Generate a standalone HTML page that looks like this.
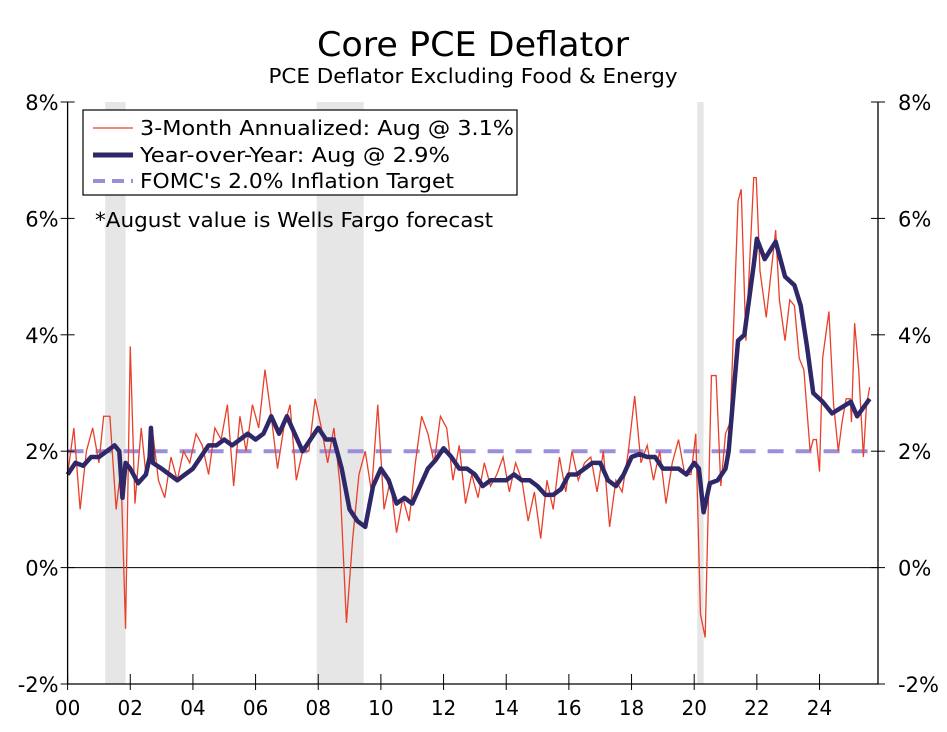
<!DOCTYPE html>
<html><head><meta charset="utf-8"><style>
body{margin:0;background:#fff}
svg text{font-family:"DejaVu Sans","Liberation Sans",sans-serif}
</style></head><body>
<svg id="chart" width="947" height="727" xmlns="http://www.w3.org/2000/svg">
<text x="473" y="56" text-anchor="middle" font-size="34" textLength="312" lengthAdjust="spacingAndGlyphs">Core PCE Deflator</text>
<text x="473" y="83" text-anchor="middle" font-size="20" textLength="409" lengthAdjust="spacingAndGlyphs">PCE Deflator Excluding Food &amp; Energy</text>
<g id="rec"></g><g id="grid"></g><g id="series"></g><g id="axes"></g>
<g>
<rect x="83" y="110" width="434" height="85" fill="#fff" stroke="#000" stroke-width="1.2"/>
<line x1="93" y1="128" x2="133" y2="128" stroke="#e8402a" stroke-width="1.3"/>
<text x="140" y="135" font-size="20" textLength="374" lengthAdjust="spacingAndGlyphs">3-Month Annualized: Aug @ 3.1%</text>
<line x1="93" y1="155" x2="133" y2="155" stroke="#2e2868" stroke-width="5"/>
<text x="140" y="162" font-size="20" textLength="310" lengthAdjust="spacingAndGlyphs">Year-over-Year: Aug @ 2.9%</text>
<line x1="93" y1="181" x2="133" y2="181" stroke="#9b8fdc" stroke-width="4" stroke-dasharray="12,7"/>
<text x="140" y="188" font-size="20" textLength="314" lengthAdjust="spacingAndGlyphs">FOMC's 2.0% Inflation Target</text>
</g>
<text x="95" y="227" font-size="20" textLength="398" lengthAdjust="spacingAndGlyphs">*August value is Wells Fargo forecast</text>
</svg>
<script>
const yTicks=[-2,0,2,4,6,8];
const xTickYears=[2000,2002,2004,2006,2008,2010,2012,2014,2016,2018,2020,2022,2024];
const recessions=[[2001.2,2001.85],[2007.95,2009.45],[2020.1,2020.3]];
const target=2.0;
const m3Dates=[2000.0,2000.2,2000.4,2000.6,2000.8,2001.0,2001.15,2001.35,2001.55,2001.7,2001.85,2002.0,2002.15,2002.35,2002.5,2002.7,2002.9,2003.1,2003.3,2003.5,2003.7,2003.9,2004.1,2004.3,2004.5,2004.7,2004.9,2005.1,2005.3,2005.5,2005.7,2005.9,2006.1,2006.3,2006.5,2006.7,2006.9,2007.1,2007.3,2007.5,2007.7,2007.9,2008.1,2008.3,2008.5,2008.7,2008.9,2009.1,2009.3,2009.5,2009.7,2009.9,2010.1,2010.3,2010.5,2010.7,2010.9,2011.1,2011.3,2011.5,2011.7,2011.9,2012.1,2012.3,2012.5,2012.7,2012.9,2013.1,2013.3,2013.5,2013.7,2013.9,2014.1,2014.3,2014.5,2014.7,2014.9,2015.1,2015.3,2015.5,2015.7,2015.9,2016.1,2016.3,2016.5,2016.7,2016.9,2017.1,2017.3,2017.5,2017.7,2017.9,2018.1,2018.3,2018.5,2018.7,2018.9,2019.1,2019.3,2019.5,2019.7,2019.9,2020.05,2020.2,2020.35,2020.55,2020.7,2020.85,2021.0,2021.15,2021.4,2021.5,2021.65,2021.9,2021.98,2022.1,2022.3,2022.6,2022.72,2022.9,2023.05,2023.2,2023.35,2023.5,2023.7,2023.8,2023.9,2024.0,2024.1,2024.3,2024.45,2024.6,2024.72,2024.85,2024.98,2025.02,2025.12,2025.25,2025.4,2025.5,2025.6];
const m3Values=[1.6,2.4,1.0,2.0,2.4,1.8,2.6,2.6,1.0,1.7,-1.05,3.8,1.1,2.4,1.6,2.4,1.5,1.2,1.9,1.5,2.0,1.8,2.3,2.1,1.6,2.4,2.2,2.8,1.4,2.6,2.0,2.8,2.4,3.4,2.6,1.7,2.4,2.8,1.5,2.0,2.0,2.9,2.4,1.8,2.4,1.4,-0.95,0.5,1.6,2.0,1.3,2.8,1.0,1.5,0.6,1.2,0.8,1.8,2.6,2.3,1.8,2.6,2.4,1.5,2.1,1.1,1.6,1.2,1.8,1.4,1.6,1.9,1.3,1.8,1.5,0.8,1.3,0.5,1.5,1.0,1.9,1.3,2.0,1.5,1.8,1.9,1.3,2.0,0.7,1.5,1.3,2.0,2.95,1.8,2.1,1.5,2.0,1.1,1.8,2.2,1.6,1.6,2.3,-0.8,-1.2,3.3,3.3,1.4,2.3,2.5,6.3,6.5,3.9,6.7,6.7,5.1,4.3,5.8,4.6,3.9,4.6,4.5,3.6,3.4,2.0,2.2,2.2,1.65,3.6,4.4,2.8,2.0,2.5,2.9,2.9,2.5,4.2,3.4,1.9,2.8,3.1];
const yoyDates=[2000.0,2000.25,2000.5,2000.75,2001.0,2001.25,2001.5,2001.65,2001.75,2001.85,2002.0,2002.25,2002.5,2002.62,2002.66,2002.72,2003.0,2003.25,2003.5,2003.75,2004.0,2004.25,2004.5,2004.75,2005.0,2005.25,2005.5,2005.75,2006.0,2006.25,2006.5,2006.75,2007.0,2007.25,2007.5,2007.75,2008.0,2008.25,2008.5,2008.75,2009.0,2009.25,2009.5,2009.75,2010.0,2010.25,2010.5,2010.75,2011.0,2011.25,2011.5,2011.75,2012.0,2012.25,2012.5,2012.75,2013.0,2013.25,2013.5,2013.75,2014.0,2014.25,2014.5,2014.75,2015.0,2015.25,2015.5,2015.75,2016.0,2016.25,2016.5,2016.75,2017.0,2017.25,2017.5,2017.75,2018.0,2018.25,2018.5,2018.75,2019.0,2019.25,2019.5,2019.75,2020.0,2020.15,2020.3,2020.5,2020.75,2021.0,2021.1,2021.4,2021.6,2021.9,2022.0,2022.25,2022.6,2022.9,2023.2,2023.4,2023.6,2023.8,2024.1,2024.4,2024.7,2025.0,2025.2,2025.6];
const yoyValues=[1.6,1.8,1.75,1.9,1.9,2.0,2.1,2.0,1.2,1.8,1.7,1.45,1.6,1.9,2.4,1.8,1.7,1.6,1.5,1.6,1.7,1.9,2.1,2.1,2.2,2.1,2.2,2.3,2.2,2.3,2.6,2.3,2.6,2.3,2.0,2.2,2.4,2.2,2.2,1.7,1.0,0.8,0.7,1.4,1.7,1.5,1.1,1.2,1.1,1.4,1.7,1.85,2.05,1.9,1.7,1.7,1.6,1.4,1.5,1.5,1.5,1.6,1.5,1.5,1.4,1.25,1.25,1.35,1.6,1.6,1.7,1.8,1.8,1.5,1.4,1.6,1.9,1.95,1.9,1.9,1.7,1.7,1.7,1.6,1.8,1.7,0.95,1.45,1.5,1.7,2.0,3.9,4.0,5.2,5.65,5.3,5.6,5.0,4.85,4.5,3.8,3.0,2.85,2.65,2.75,2.85,2.6,2.9];
const NS="http://www.w3.org/2000/svg";
const L=67.6,R=878,T=102,B=684;
const x=yr=>L+(yr-2000)*31.33;
const y=v=>B-(v+2)*(B-T)/10;
function mk(tag,attrs,parent){const e=document.createElementNS(NS,tag);for(const k in attrs)e.setAttribute(k,attrs[k]);document.getElementById(parent).appendChild(e);return e;}
recessions.forEach(r=>{
const e=mk('rect',{x:x(r[0]),y:T,width:x(r[1])-x(r[0]),height:B-T,fill:'#e6e6e6'},'rec');


});
const z=mk('line',{x1:L,x2:R,y1:y(0),y2:y(0),stroke:'#000','stroke-width':1},'grid');


const tl=mk('line',{x1:L,x2:R-8,y1:y(target),y2:y(target),stroke:'#9b8fdc','stroke-width':4,'stroke-dasharray':'16,12'},'series');


const p3=mk('polyline',{points:m3Dates.map((d,i)=>x(d)+','+y(m3Values[i])).join(' '),fill:'none',stroke:'#e8402a','stroke-width':1.3},'series');


const py=mk('polyline',{points:yoyDates.map((d,i)=>x(d)+','+y(yoyValues[i])).join(' '),fill:'none',stroke:'#2e2868','stroke-width':4.5,'stroke-linejoin':'round'},'series');


const ax=mk('path',{d:`M${L},${T}V${B}H${R}V${T}`,fill:'none',stroke:'#000','stroke-width':1.3},'axes');


yTicks.forEach(v=>{
mk('line',{x1:L-7,x2:L+7,y1:y(v),y2:y(v),stroke:'#000'},'axes');
mk('line',{x1:R-7,x2:R+7,y1:y(v),y2:y(v),stroke:'#000'},'axes');
const a=mk('text',{x:L-9,y:y(v)+8,'text-anchor':'end','font-size':21},'axes');a.textContent=v+'%';


const b=mk('text',{x:R+20,y:y(v)+8,'text-anchor':'start','font-size':21},'axes');b.textContent=v+'%';


});
xTickYears.forEach(yr=>{
mk('line',{x1:x(yr),x2:x(yr),y1:B-10,y2:B+6,stroke:'#000'},'axes');
const t=mk('text',{x:x(yr),y:B+31,'text-anchor':'middle','font-size':20},'axes');t.textContent=String(yr).slice(2);


});
</script>
</body></html>
